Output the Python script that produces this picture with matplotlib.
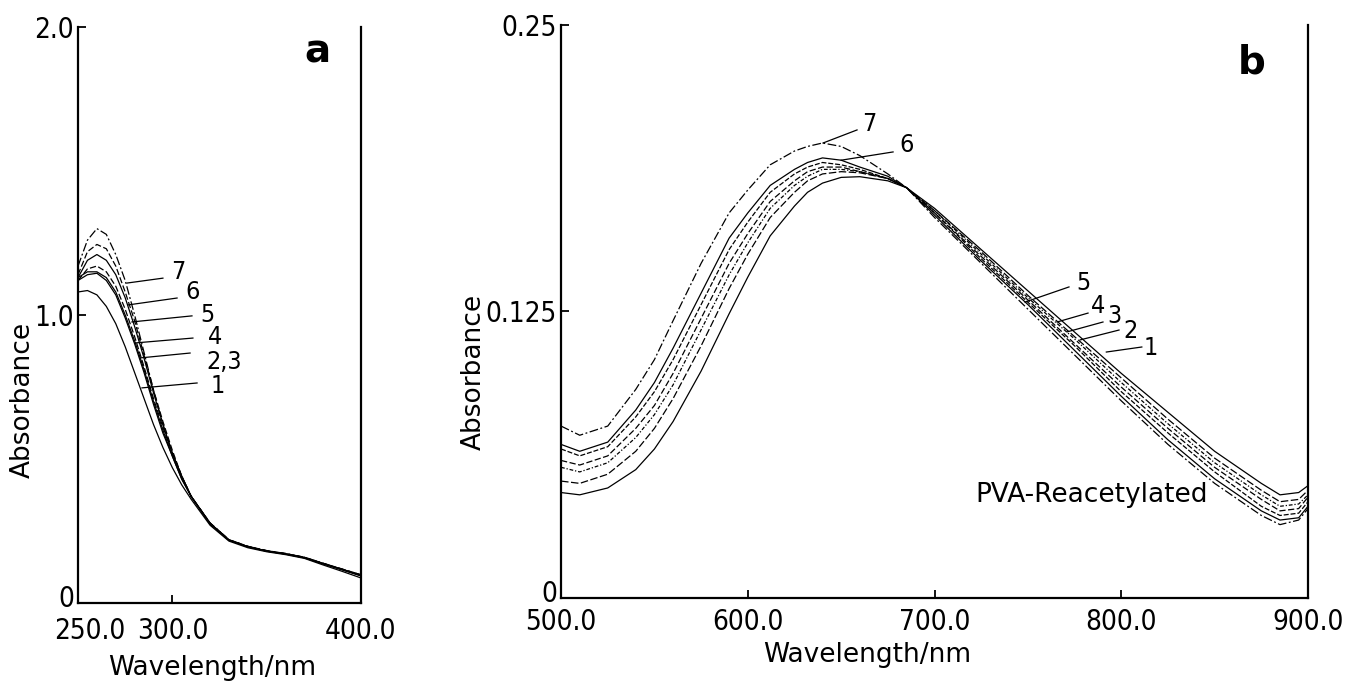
import matplotlib
matplotlib.use("Agg")
import matplotlib.pyplot as plt
from matplotlib.transforms import ScaledTranslation

plt.rcParams["font.family"] = "DejaVu Sans"

# ---- panel a: 250-400 nm ----
WL_A = [250, 255, 260, 265, 270, 275, 280, 285, 290, 295, 300, 305, 310,
        320, 330, 340, 350, 360, 370, 380, 390, 400]
A1 = [1.08, 1.085, 1.07, 1.03, 0.97, 0.89, 0.80, 0.71, 0.62, 0.54, 0.47, 0.41, 0.36,
      0.27, 0.215, 0.192, 0.178, 0.168, 0.155, 0.132, 0.110, 0.087]
A2 = [1.12, 1.14, 1.145, 1.12, 1.07, 0.99, 0.90, 0.80, 0.69, 0.59, 0.51, 0.43, 0.37,
      0.275, 0.218, 0.195, 0.180, 0.170, 0.157, 0.136, 0.115, 0.094]
A3 = [1.13, 1.15, 1.15, 1.13, 1.08, 1.00, 0.91, 0.81, 0.70, 0.60, 0.51, 0.43, 0.37,
      0.275, 0.218, 0.195, 0.180, 0.170, 0.157, 0.136, 0.116, 0.095]
A4 = [1.12, 1.16, 1.17, 1.15, 1.10, 1.02, 0.925, 0.82, 0.71, 0.61, 0.52, 0.44, 0.37,
      0.277, 0.219, 0.196, 0.181, 0.171, 0.158, 0.137, 0.117, 0.096]
A5 = [1.13, 1.19, 1.21, 1.19, 1.14, 1.06, 0.96, 0.85, 0.73, 0.62, 0.52, 0.44, 0.37,
      0.277, 0.219, 0.196, 0.181, 0.171, 0.158, 0.137, 0.117, 0.097]
A6 = [1.14, 1.22, 1.245, 1.23, 1.17, 1.08, 0.98, 0.86, 0.74, 0.63, 0.53, 0.44, 0.37,
      0.278, 0.220, 0.197, 0.182, 0.172, 0.159, 0.138, 0.118, 0.098]
A7 = [1.17, 1.26, 1.30, 1.28, 1.21, 1.12, 1.00, 0.87, 0.74, 0.62, 0.52, 0.44, 0.37,
      0.278, 0.220, 0.197, 0.182, 0.172, 0.159, 0.138, 0.118, 0.098]

# ---- panel b: 500-900 nm ----
WL_B = [500, 510, 525, 540, 550, 560, 575, 590, 600, 612, 625, 632, 640, 650, 660, 675, 685, 700,
        725, 750, 775, 800, 825, 850, 875, 885, 895, 900]
B1 = [0.046, 0.045, 0.048, 0.056, 0.065, 0.077, 0.099, 0.124, 0.140, 0.158, 0.171, 0.177, 0.181, 0.1835,
      0.1838, 0.182, 0.179, 0.170, 0.152, 0.134, 0.116, 0.098, 0.081, 0.064, 0.050, 0.045, 0.046, 0.049]
B2 = [0.051, 0.050, 0.054, 0.064, 0.074, 0.087, 0.110, 0.135, 0.150, 0.166, 0.177, 0.182, 0.185, 0.186,
      0.1855, 0.183, 0.179, 0.169, 0.151, 0.132, 0.114, 0.096, 0.078, 0.061, 0.047, 0.042, 0.043, 0.047]
B3 = [0.057, 0.055, 0.059, 0.070, 0.080, 0.093, 0.117, 0.141, 0.155, 0.170, 0.180, 0.184, 0.187, 0.187,
      0.186, 0.183, 0.179, 0.169, 0.150, 0.131, 0.113, 0.094, 0.076, 0.059, 0.045, 0.040, 0.041, 0.045]
B4 = [0.060, 0.058, 0.062, 0.074, 0.084, 0.098, 0.122, 0.146, 0.159, 0.173, 0.182, 0.186, 0.188, 0.188,
      0.186, 0.183, 0.179, 0.168, 0.149, 0.130, 0.111, 0.092, 0.074, 0.057, 0.043, 0.038, 0.039, 0.044]
B5 = [0.065, 0.062, 0.066, 0.079, 0.090, 0.104, 0.128, 0.152, 0.164, 0.177, 0.185, 0.188, 0.190, 0.189,
      0.187, 0.183, 0.179, 0.168, 0.148, 0.129, 0.110, 0.090, 0.072, 0.055, 0.040, 0.036, 0.037, 0.042]
B6 = [0.067, 0.064, 0.068, 0.082, 0.094, 0.109, 0.133, 0.157, 0.168, 0.180, 0.187, 0.190, 0.192, 0.191,
      0.188, 0.184, 0.179, 0.167, 0.147, 0.128, 0.108, 0.088, 0.069, 0.052, 0.038, 0.034, 0.035, 0.040]
B7 = [0.075, 0.071, 0.075, 0.091, 0.104, 0.121, 0.146, 0.168, 0.178, 0.189, 0.195, 0.197, 0.1985, 0.197,
      0.193, 0.185, 0.179, 0.166, 0.146, 0.126, 0.106, 0.086, 0.067, 0.050, 0.036, 0.032, 0.034, 0.039]

XTICKS_A = [250, 300, 400]
XLABELS_A = ["250.0", "300.0", "400.0"]
YTICKS_A = [0, 1.0, 2.0]
YLABELS_A = ["0", "1.0", "2.0"]
XTICKS_B = [500, 600, 700, 800, 900]
XLABELS_B = ["500.0", "600.0", "700.0", "800.0", "900.0"]
YTICKS_B = [0, 0.125, 0.25]
YLABELS_B = ["0", "0.125", "0.25"]

DASH = (0, (5, 2))
DASHDOT = (0, (7, 2, 1.5, 2))
STYLE_A = ["-", "-", "-", DASH, "-", DASH, DASHDOT]
STYLE_B = ["-", (0, (6, 2)), (0, (3, 1.5, 1, 1.5)), DASH, (0, (4, 1.5)), "-", DASHDOT]

# curve labels: text, text pos, leader start, leader end (data coords)
LABELS_A = [
    ("7", (299.5, 1.15), (295.0, 1.128), (276.0, 1.111)),
    ("6", (307.0, 1.08), (302.5, 1.059), (276.5, 1.035)),
    ("5", (315.0, 1.00), (310.4, 0.997), (278.6, 0.976)),
    ("4", (319.0, 0.925), (310.9, 0.920), (280.2, 0.903)),
    ("2,3", (318.0, 0.838), (309.4, 0.868), (282.9, 0.851)),
    ("1", (320.0, 0.752), (313.1, 0.764), (283.9, 0.747)),
]
LABELS_B = [
    ("7", (661.0, 0.207), (658.5, 0.2042), (640.3, 0.1985)),
    ("6", (681.0, 0.1976), (677.8, 0.1946), (650.0, 0.191)),
    ("5", (776.0, 0.1375), (772.0, 0.1357), (748.5, 0.1291)),
    ("4", (784.0, 0.1275), (782.2, 0.1243), (765.6, 0.1204)),
    ("3", (792.5, 0.1232), (790.2, 0.1204), (771.0, 0.1161)),
    ("2", (801.0, 0.1165), (798.8, 0.1169), (778.0, 0.1126)),
    ("1", (812.0, 0.1090), (811.0, 0.1095), (792.0, 0.1073)),
]

TICK_FS = 20
LABEL_FS = 18
fig = plt.figure(figsize=(13.5, 6.82), dpi=100)
ax_a = fig.add_axes([0.0578, 0.1158, 0.2096, 0.8446])
ax_b = fig.add_axes([0.4156, 0.1232, 0.5533, 0.8402])


def style_axes(ax, xt, xl, yt, yl, xlim, ylim, xpad):
    ax.set_xlim(*xlim)
    ax.set_ylim(*ylim)
    ax.spines["top"].set_visible(False)
    for s in ("left", "bottom", "right"):
        ax.spines[s].set_linewidth(1.6)
    ax.set_xticks(xt)
    ax.set_xticklabels(xl, fontsize=TICK_FS, fontstretch="condensed")
    ax.set_yticks(yt)
    ax.set_yticklabels(yl, fontsize=TICK_FS, fontstretch="condensed")
    ax.tick_params(axis="x", direction="in", length=6, width=1.3, pad=xpad)
    ax.tick_params(axis="y", direction="in", length=6, width=1.3, pad=3)
    # the "0" of the y axis sits just above the corner
    y0 = ax.get_yticklabels()[0]
    y0.set_transform(y0.get_transform() + ScaledTranslation(0, 0.07, fig.dpi_scale_trans))


def draw_curves(ax, wl, series, styles, labels):
    for ys, ls in zip(series, styles):
        ax.plot(wl, ys, color="black", lw=0.9, linestyle=ls)
    for txt, tpos, p0, p1 in labels:
        ax.plot([p0[0], p1[0]], [p0[1], p1[1]], color="black", lw=0.9)
        ax.text(tpos[0], tpos[1], txt, fontsize=LABEL_FS, ha="left", va="center",
                fontstretch="condensed")


draw_curves(ax_a, WL_A, [A1, A2, A3, A4, A5, A6, A7], STYLE_A, LABELS_A)
style_axes(ax_a, XTICKS_A, XLABELS_A, YTICKS_A, YLABELS_A, (250, 400), (0, 2.0), 10)
draw_curves(ax_b, WL_B, [B1, B2, B3, B4, B5, B6, B7], STYLE_B, LABELS_B)
style_axes(ax_b, XTICKS_B, XLABELS_B, YTICKS_B, YLABELS_B, (500, 900), (0, 0.25), 7)

# first x label in panel a sits to the right of the axis corner
lab0 = ax_a.get_xticklabels()[0]
lab0.set_transform(lab0.get_transform() + ScaledTranslation(0.12, 0, fig.dpi_scale_trans))

ax_a.text(0.845, 0.957, "a", transform=ax_a.transAxes, fontsize=28, weight="bold",
          ha="center", va="center")
ax_b.text(0.924, 0.934, "b", transform=ax_b.transAxes, fontsize=28, weight="bold",
          ha="center", va="center")
ax_b.text(722, 0.0448, "PVA-Reacetylated", fontsize=19, ha="left", va="center")

fig.text(23 / 1350, 1 - 400 / 682, "Absorbance", rotation=90, fontsize=19,
         ha="center", va="center")
fig.text(474 / 1350, 1 - 372 / 682, "Absorbance", rotation=90, fontsize=19,
         ha="center", va="center")
fig.text(212 / 1350, 1 - 668 / 682, "Wavelength/nm", fontsize=19,
         ha="center", va="center")
fig.text(867 / 1350, 1 - 655 / 682, "Wavelength/nm", fontsize=19,
         ha="center", va="center")

fig.savefig("out.png", dpi=100, facecolor="white")
